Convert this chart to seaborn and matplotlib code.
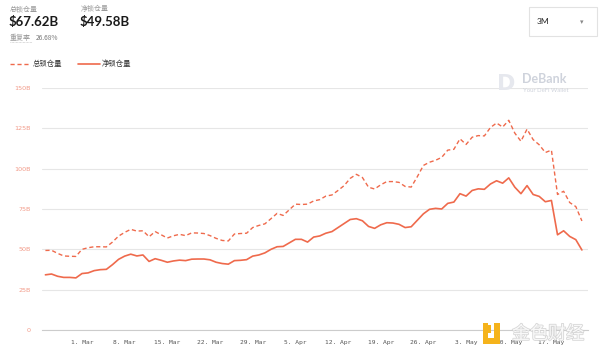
import pandas as pd
import seaborn as sns
import matplotlib.pyplot as plt
import matplotlib.patheffects as pe
from matplotlib.patches import Rectangle
from matplotlib.lines import Line2D

# Daten (in Mrd. USD), täglich 23. Feb – 22. Mai
dates = pd.date_range('2021-02-23', '2021-05-22', freq='D')
total_locked = [
    49.3, 49.4, 47.5, 45.9, 45.7, 45.6, 50.0, 51.0, 51.6, 51.6,
    51.5, 54.5, 58.2, 60.5, 62.4, 61.3, 61.5, 57.8, 61.0, 59.0,
    57.0, 58.4, 59.3, 58.5, 60.2, 60.1, 59.8, 58.5, 56.8, 55.5,
    55.2, 59.5, 59.8, 60.0, 63.5, 64.8, 65.8, 69.0, 72.3, 71.0,
    74.5, 78.0, 77.8, 78.0, 80.0, 80.8, 83.0, 83.7, 86.5, 89.5,
    94.0, 96.5, 94.5, 88.5, 87.4, 90.0, 92.0, 92.0, 91.5, 89.0,
    88.6, 95.0, 102.0, 104.0, 105.2, 107.0, 111.5, 112.0, 118.5, 115.0,
    119.5, 120.5, 120.3, 125.5, 128.3, 125.8, 130.0, 122.0, 117.0, 124.5,
    118.0, 114.8, 110.0, 111.5, 84.0, 86.0, 79.0, 76.5, 67.6,
]
net_locked = [
    34.2, 34.7, 33.3, 32.6, 32.6, 32.3, 35.0, 35.4, 36.8, 37.4,
    37.6, 40.5, 43.8, 45.8, 47.0, 45.9, 46.5, 42.5, 44.2, 43.2,
    42.0, 42.8, 43.3, 43.0, 43.9, 44.0, 44.0, 43.5, 42.0, 41.2,
    40.8, 43.0, 43.2, 43.6, 45.8, 46.5, 47.8, 50.0, 51.6, 51.8,
    54.0, 56.2, 56.2, 54.5, 57.6, 58.3, 60.0, 61.0, 63.5, 66.0,
    68.5, 69.0, 67.7, 64.2, 63.0, 65.2, 66.5, 66.3, 65.5, 63.5,
    64.0, 68.0, 72.0, 74.8, 75.4, 75.0, 78.5, 79.3, 84.5, 83.0,
    86.5, 87.5, 87.2, 90.5, 92.5, 91.0, 94.3, 88.5, 84.5, 89.5,
    84.0, 82.8, 79.5, 80.3, 59.0, 61.5, 58.0, 56.0, 49.6,
]
xtick_dates = pd.date_range('2021-03-01', '2021-05-17', freq='7D')
xtick_labels = ['1. Mar', '8. Mar', '15. Mar', '22. Mar', '29. Mar', '5. Apr',
                '12. Apr', '19. Apr', '26. Apr', '3. May', '10. May', '17. May']
ytick_values = [0, 25, 50, 75, 100, 125, 150]
ytick_labels = ['0', '25B', '50B', '75B', '100B', '125B', '150B']

df = pd.DataFrame({'date': dates, 'total': total_locked, 'net': net_locked})

sns.set_style('white')
plt.rcParams['font.family'] = ['Noto Sans CJK SC', 'DejaVu Sans']

W, H = 600, 356
fig = plt.figure(figsize=(6, 3.56), dpi=100)


def px(x, y):
    return x / W, 1 - y / H


line_color = '#ef6a4c'

ax = fig.add_axes([42 / W, 1 - 330 / H, (588 - 42) / W, (330 - 88) / H])
sns.lineplot(data=df, x='date', y='total', ax=ax, color=line_color,
             linewidth=1.0, linestyle=(0, (3, 2)))
sns.lineplot(data=df, x='date', y='net', ax=ax, color=line_color, linewidth=1.2)

mar1 = pd.Timestamp('2021-03-01')
ax.set_xlim(mar1 - pd.Timedelta(days=6.56), mar1 + pd.Timedelta(days=83.0))
ax.set_ylim(0, 150)
ax.set_yticks(ytick_values)
ax.set_yticklabels(ytick_labels, color='#f29a88', fontsize=4.6,
                   family=['DejaVu Sans'])
ax.set_xticks(xtick_dates)
ax.set_xticklabels(xtick_labels, color='#555555', fontsize=4.5,
                   family=['DejaVu Sans Mono'])
ax.tick_params(axis='y', length=0, pad=8)
ax.tick_params(axis='x', length=5, width=0.6, color='#cccccc', pad=2, direction='out')
ax.set_xlabel('')
ax.set_ylabel('')
ax.grid(axis='y', color='#e6e6e6', linewidth=0.8)
ax.grid(axis='x', visible=False)
for side in ['top', 'right', 'left']:
    ax.spines[side].set_visible(False)
ax.spines['bottom'].set_color('#cccccc')
ax.spines['bottom'].set_linewidth(0.8)

# Kopfzeile
gray = '#9a9a9a'
fig.text(*px(10, 9), '总锁仓量', fontsize=5, color=gray, va='center')
fig.text(*px(81, 9), '净锁仓量', fontsize=5, color=gray, va='center')
fig.text(*px(9, 22), '$67.62B', fontsize=9.5, fontweight='bold', color='#1a1a1a',
         va='center', family=['Lato'])
fig.text(*px(80, 22), '$49.58B', fontsize=9.5, fontweight='bold', color='#1a1a1a',
         va='center', family=['Lato'])
fig.text(*px(10, 38), '重复率', fontsize=5, color=gray, va='center')
fig.add_artist(Line2D([10 / W, 32 / W], [1 - 42 / H, 1 - 42 / H], color='#bbbbbb',
                      linewidth=0.5, linestyle=(0, (1, 1))))
fig.text(*px(36, 38), '26.68%', fontsize=4.8, color='#777777', va='center')

# Legende
fig.add_artist(Line2D([10 / W, 30 / W], [1 - 64 / H] * 2, color=line_color,
                      linewidth=1.0, linestyle=(0, (3, 2))))
fig.text(*px(33, 64), '总锁仓量', fontsize=5.3, color='#333333', va='center')
fig.add_artist(Line2D([78 / W, 100 / W], [1 - 64 / H] * 2, color=line_color,
                      linewidth=1.2))
fig.text(*px(102, 64), '净锁仓量', fontsize=5.3, color='#333333', va='center')

# Auswahlbox "3M"
fig.add_artist(Rectangle(px(529, 36), 68 / W, 29 / H, facecolor='white',
                         edgecolor='#e2e2e2', linewidth=0.8))
fig.text(*px(537, 22), '3M', fontsize=6, color='#222222', va='center',
         family=['Lato'])
fig.text(*px(582, 22), '▾', fontsize=5, color='#888888', va='center', ha='center',
         family=['DejaVu Sans'])

# Wasserzeichen
fig.text(*px(506, 84), 'D', fontsize=16, fontweight='bold', color='#e6e8ee',
         va='center', ha='center', family=['DejaVu Sans'])
fig.text(*px(522, 79), 'DeBank', fontsize=9, fontweight='bold', color='#cfd3dc',
         va='center', family=['Lato'])
fig.text(*px(523, 91), 'Your DeFi Wallet', fontsize=4.3, color='#cfd3dc',
         va='center', family=['Lato'])
fig.add_artist(Rectangle(px(483, 344), 5 / W, 21 / H, facecolor='#f5b31b',
                         edgecolor='none'))
fig.add_artist(Rectangle(px(483, 344), 17 / W, 6 / H, facecolor='#f5b31b',
                         edgecolor='none'))
fig.add_artist(Rectangle(px(494, 344), 6 / W, 21 / H, facecolor='#f5b31b',
                         edgecolor='none'))
fig.add_artist(Rectangle(px(485, 333), 6 / W, 8 / H, facecolor='#f5b31b',
                         edgecolor='none'))
fig.text(*px(548, 334), '金色财经', fontsize=13, color='white', va='center',
         ha='center', alpha=0.85,
         path_effects=[pe.withStroke(linewidth=1.2, foreground='#d0d0d0')])

plt.savefig('out.png', dpi=100)
